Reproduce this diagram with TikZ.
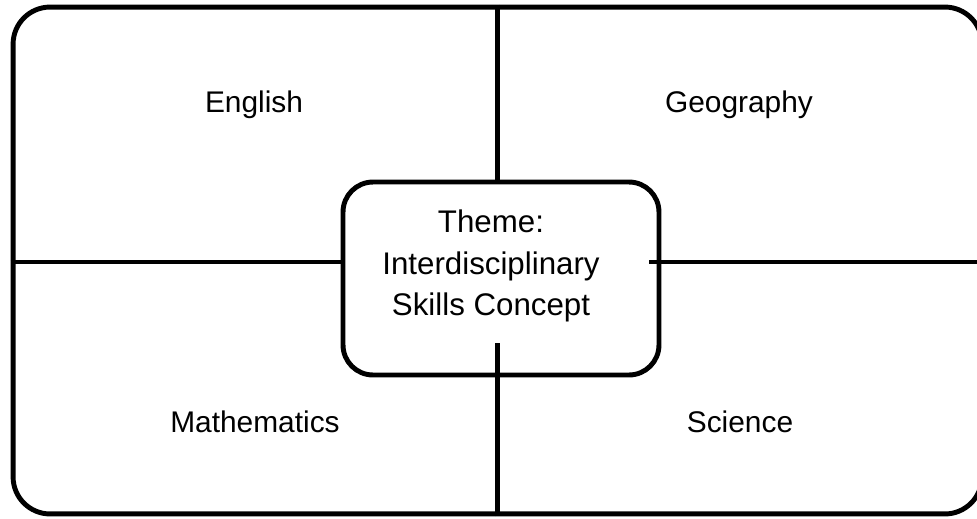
\documentclass[tikz,border=0pt]{standalone}
\usepackage{fontspec}
\setmainfont{Liberation Sans}

\begin{document}
\begin{tikzpicture}[x=0.02cm,y=-0.02cm,line width=2.8pt,
    font=\fontsize{17pt}{23.5pt}\selectfont,
    framebox/.style={draw,rectangle,rounded corners=0.74cm,minimum width=19.38cm,minimum height=10.14cm},
    themebox/.style={draw,rectangle,rounded corners=0.6cm,minimum width=6.32cm,minimum height=3.86cm},
    subject/.style={inner sep=0pt}]
            \useasboundingbox (0,0) rectangle (977,518);
            \node[framebox] (frame) at (497.5,260.5) {};
            \node[themebox] (theme) at (501,278.5) {};
            \coordinate (hub) at (497.5,262);
            \draw (frame.north) -- (frame.north |- theme.north);
            \draw (frame.south) -- (frame.south |- 0,343);
            \draw (frame.west |- hub) -- ([xshift=0.06cm]theme.west |- hub);
            \draw ([xshift=-0.24cm]theme.east |- hub) -- (frame.east |- hub);
            \node[subject] (english) at (254,105) {English};
            \node[subject] (geography) at (739,105) {Geography};
            \node[subject] (maths) at (255,422) {Mathematics};
            \node[subject] (science) at (740,422) {Science};
            \node[align=center,font=\fontsize{17.8pt}{23.8pt}\selectfont] (themetext) at (491,266) {Theme:\\Interdisciplinary\\Skills Concept};
        \end{tikzpicture}
\end{document}
